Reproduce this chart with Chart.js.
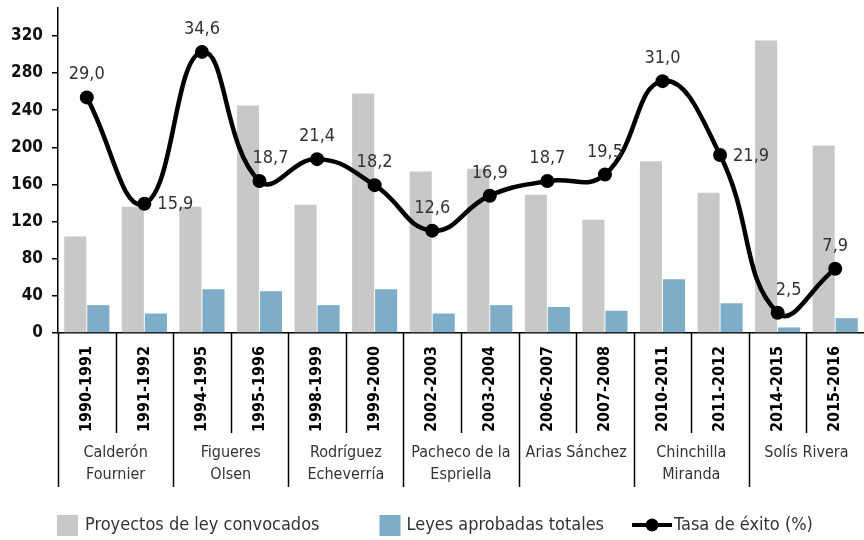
<!DOCTYPE html>
<html>
<head>
<meta charset="utf-8">
<script src="https://cdn.jsdelivr.net/npm/chart.js@4.4.1/dist/chart.umd.min.js"></script>
<style>
  html, body { margin: 0; padding: 0; background: #fff; }
  canvas { display: block; }
</style>
</head>
<body>
<canvas id="chart" width="864" height="540"></canvas>
<script>
// Data
const periodos = ['1990-1991', '1991-1992', '1994-1995', '1995-1996', '1998-1999', '1999-2000', '2002-2003',
                  '2003-2004', '2006-2007', '2007-2008', '2010-2011', '2011-2012', '2014-2015', '2015-2016'];
const gobiernos = [['Calderón', 'Fournier'], ['Figueres', 'Olsen'], ['Rodríguez', 'Echeverría'],
                   ['Pacheco de la', 'Espriella'], ['Arias Sánchez'], ['Chinchilla', 'Miranda'], ['Solís Rivera']];
const proyectos = [104, 136, 136, 245, 138, 258, 174, 177, 149, 122, 185, 151, 315, 202];
const leyes = [30, 21, 47, 45, 30, 47, 21, 30, 28, 24, 58, 32, 6, 16];
const tasa = [29.0, 15.9, 34.6, 18.7, 21.4, 18.2, 12.6, 16.9, 18.7, 19.5, 31.0, 21.9, 2.5, 7.9];
const yTicks = [0, 40, 80, 120, 160, 200, 240, 280, 320];

// where each value label sits relative to its point
const labelPos = ['top', 'right', 'top', 'topright', 'top', 'top', 'top', 'top', 'top', 'top', 'top', 'right', 'topright', 'top'];

const FONT = "'DejaVu Sans Condensed', 'DejaVu Sans', sans-serif";
const GRAY = '#c8c8c8';
const BLUE = '#7eadc9';

// value labels on the line
const lineLabels = {
    id: 'lineLabels',
    afterDatasetsDraw(chart) {
        const ctx = chart.ctx;
        const meta = chart.getDatasetMeta(2);
        ctx.save();
        ctx.font = '18px ' + FONT;
        ctx.fillStyle = '#333';
        meta.data.forEach((pt, i) => {
            const txt = tasa[i].toFixed(1).replace('.', ',');
            const pos = labelPos[i];
            if (pos === 'right') {
                ctx.textAlign = 'left';
                ctx.textBaseline = 'middle';
                ctx.fillText(txt, pt.x + 13, pt.y + 1);
            } else {
                ctx.textAlign = 'center';
                ctx.textBaseline = 'alphabetic';
                ctx.fillText(txt, pt.x + (pos === 'topright' ? 11 : 0), pt.y - 18);
            }
        });
        ctx.restore();
    }
};

// category separators, government groups and legend
const axisExtras = {
    id: 'axisExtras',
    afterDraw(chart) {
        const ctx = chart.ctx;
        const x = chart.scales.x;
        const area = chart.chartArea;
        const bottom = area.bottom;
        const boundary = (i) => i === 0 ? area.left :
            (x.getPixelForValue(i - 1) + x.getPixelForValue(i)) / 2;

        ctx.save();
        ctx.strokeStyle = '#000';
        ctx.lineWidth = 1.5;
        for (let i = 0; i < periodos.length; i++) {
            const bx = Math.round(boundary(i)) + 0.5;
            const isGroup = i % 2 === 0;
            ctx.beginPath();
            ctx.moveTo(bx, bottom);
            ctx.lineTo(bx, isGroup ? bottom + 154 : bottom + 100);
            ctx.stroke();
        }

        ctx.font = '16px ' + FONT;
        ctx.fillStyle = '#333';
        ctx.textAlign = 'center';
        ctx.textBaseline = 'middle';
        gobiernos.forEach((g, gi) => {
            const cx = (x.getPixelForValue(gi * 2) + x.getPixelForValue(gi * 2 + 1)) / 2;
            g.forEach((line, li) => ctx.fillText(line, cx, bottom + 120 + li * 22));
        });

        // legend
        const ly = 525;
        const ds = chart.data.datasets;
        ctx.font = '18px ' + FONT;
        ctx.textAlign = 'left';
        let lx = 57;
        ctx.fillStyle = GRAY;
        ctx.fillRect(lx, ly - 10, 21, 21);
        ctx.fillStyle = '#333';
        ctx.fillText(ds[0].label, lx + 28, ly);
        lx += 28 + ctx.measureText(ds[0].label).width + 60;
        ctx.fillStyle = BLUE;
        ctx.fillRect(lx, ly - 10, 21, 21);
        ctx.fillStyle = '#333';
        ctx.fillText(ds[1].label, lx + 27, ly);
        lx += 27 + ctx.measureText(ds[1].label).width + 28;
        ctx.strokeStyle = '#000';
        ctx.lineWidth = 4;
        ctx.beginPath();
        ctx.moveTo(lx, ly);
        ctx.lineTo(lx + 40, ly);
        ctx.stroke();
        ctx.fillStyle = '#000';
        ctx.beginPath();
        ctx.arc(lx + 20, ly, 6.5, 0, Math.PI * 2);
        ctx.fill();
        ctx.fillStyle = '#333';
        ctx.fillText(ds[2].label, lx + 42, ly);
        ctx.restore();
    }
};

new Chart(document.getElementById('chart'), {
    type: 'bar',
    data: {
        labels: periodos,
        datasets: [
            { label: 'Proyectos de ley convocados', data: proyectos, backgroundColor: GRAY, yAxisID: 'y', order: 1,
              categoryPercentage: 0.8, barPercentage: 0.96 },
            { label: 'Leyes aprobadas totales', data: leyes, backgroundColor: BLUE, yAxisID: 'y', order: 2,
              categoryPercentage: 0.8, barPercentage: 0.96 },
            { type: 'line', label: 'Tasa de éxito (%)', data: tasa, yAxisID: 'y1', order: 0,
              borderColor: '#000', borderWidth: 4.5, tension: 0.45, cubicInterpolationMode: 'default',
              pointRadius: 7, pointBackgroundColor: '#000', pointBorderColor: '#000', pointBorderWidth: 0 }
        ]
    },
    options: {
        responsive: false,
        animation: false,
        layout: { autoPadding: false, padding: { top: 8, right: 0, bottom: 53, left: 0 } },
        plugins: { legend: { display: false }, tooltip: { enabled: false } },
        scales: {
            x: {
                offset: true,
                grid: { display: false },
                border: { color: '#000', width: 1.5 },
                ticks: {
                    autoSkip: false, minRotation: 90, maxRotation: 90, padding: 5,
                    color: '#000', font: { family: FONT, size: 16, weight: 'bold' }
                },
                afterFit(scale) {
                    scale.height = 154;
                    scale.paddingLeft = 0;
                    scale.paddingRight = 0;
                }
            },
            y: {
                min: 0, max: 350,
                grid: { drawOnChartArea: false, tickLength: 6, color: '#000', lineWidth: 1.5 },
                border: { color: '#000', width: 1.5 },
                afterBuildTicks(scale) { scale.ticks = yTicks.map(v => ({ value: v })); },
                ticks: { padding: 9, color: '#111', font: { family: FONT, size: 17, weight: 'bold' } },
                afterFit(scale) {
                    scale.width = 58;
                    scale.paddingTop = 0;
                    scale.paddingBottom = 0;
                }
            },
            y1: { min: 0, max: 40, display: false }
        }
    },
    plugins: [lineLabels, axisExtras]
});
</script>
</body>
</html>
